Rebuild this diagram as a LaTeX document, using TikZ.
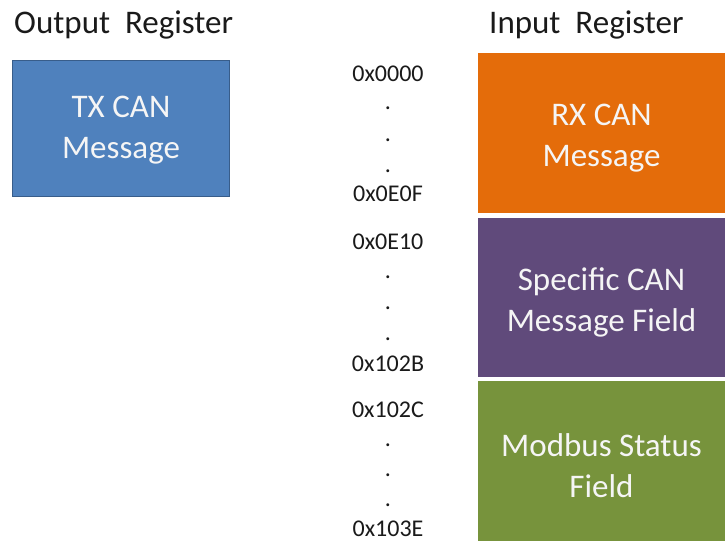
\documentclass[tikz,border=0pt]{standalone}
\usepackage{fontspec}
\setmainfont{Carlito}
\definecolor{txblue}{HTML}{4F81BD}
\definecolor{txborder}{HTML}{385D8A}
\definecolor{rxorange}{HTML}{E46C0A}
\definecolor{specpurple}{HTML}{604A7B}
\definecolor{modgreen}{HTML}{77933C}
\definecolor{labelgray}{HTML}{1A1A1A}
\begin{document}
\begin{tikzpicture}[x=1pt,y=-1pt]
\tikzset{
  hdr/.style={anchor=west,inner sep=0pt,font=\fontsize{33}{40}\selectfont,text=labelgray},
  addr/.style={inner sep=0pt,font=\fontsize{24}{29}\selectfont,text=labelgray},
  gapdot/.style={anchor=base,inner sep=0pt,font=\fontsize{24}{29}\selectfont,text=labelgray},
  blk/.style={inner sep=0pt,outer sep=0pt,minimum width=247pt,minimum height=#1},
  blktext/.style={inner sep=0pt,text=white!96!black,align=center,font=\fontsize{33}{41}\selectfont}
}
\useasboundingbox[fill=white] (0,0) rectangle (725,542);

% headers
\node[hdr] (outhdr) at (14,25) {Output\ \ Register};
\node[hdr] (inhdr) at (489,25) {Input\ \ Register};

% output register box
\node[inner sep=0pt,outer sep=0pt,minimum width=217pt,minimum height=136pt,
      fill=txblue,draw=txborder,line width=1.6pt] (tx) at (121,128.5) {};
\node[blktext] (txt) at ([yshift=-2pt]tx.center) {TX CAN\\Message};

% input register blocks
\node[blk=160pt,fill=rxorange] (rx) at (601.5,133) {};
\node[blktext] (rxt) at ([yshift=-5pt]rx.center) {RX CAN\\Message};

\node[blk=159pt,fill=specpurple] (spec) at (601.5,297.5) {};
\node[blktext] (spect) at ([yshift=-5pt]spec.center) {Specific CAN\\Message Field};

\node[blk=160pt,fill=modgreen] (mod) at (601.5,460.5) {};
\node[blktext] (modt) at ([yshift=-5pt]mod.center) {Modbus Status\\Field};

% address labels
\node[addr] (a1) at (388,74) {0x0000};
\node[gapdot] (d11) at (388,109.5) {.};
\node[gapdot] (d12) at (388,141) {.};
\node[gapdot] (d13) at (388,172.5) {.};
\node[addr] (a2) at (388,194) {0x0E0F};

\node[addr] (a3) at (388,242) {0x0E10};
\node[gapdot] (d21) at (388,278.5) {.};
\node[gapdot] (d22) at (388,309.5) {.};
\node[gapdot] (d23) at (388,340.5) {.};
\node[addr] (a4) at (388,364) {0x102B};

\node[addr] (a5) at (388,410) {0x102C};
\node[gapdot] (d31) at (388,446.5) {.};
\node[gapdot] (d32) at (388,476.5) {.};
\node[gapdot] (d33) at (388,506.5) {.};
\node[addr] (a6) at (388,529) {0x103E};
\end{tikzpicture}
\end{document}
